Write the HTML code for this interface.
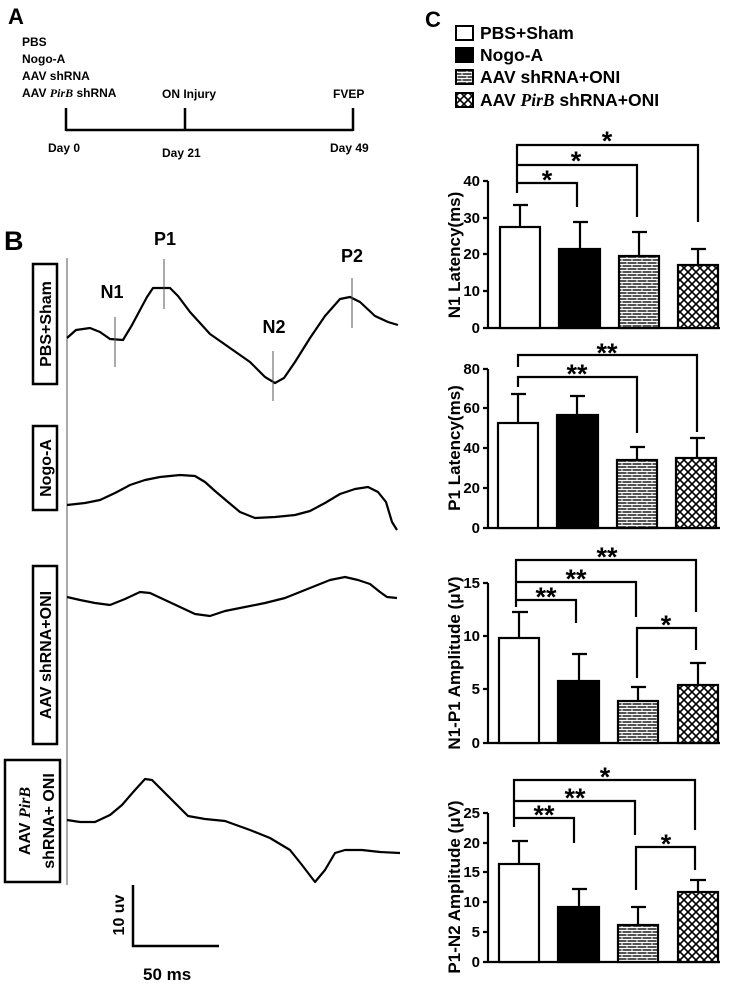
<!DOCTYPE html>
<html><head><meta charset="utf-8"><style>body{margin:0;background:#fff}svg{display:block}text{font-family:"Liberation Sans",sans-serif;font-weight:bold;fill:#000}</style></head><body>
<svg width="737" height="992" viewBox="0 0 737 992" xmlns="http://www.w3.org/2000/svg">
<defs>
<pattern id="brick" width="10" height="6" patternUnits="userSpaceOnUse"><rect width="10" height="6" fill="#555"/><path d="M0 0.5H10M0 3.5H10M2 0.5V3.5M7 3.5V6" stroke="#fff" stroke-width="1"/></pattern>
<pattern id="cross" width="8" height="8" patternUnits="userSpaceOnUse"><rect width="8" height="8" fill="#fff"/><path d="M0 0L8 8M8 0L0 8" stroke="#000" stroke-width="1.6"/></pattern>
</defs>
<!-- A -->
<text x="8" y="24" font-size="22">A</text>
<g font-size="12"><text x="22" y="46">PBS</text><text x="22" y="63">Nogo-A</text><text x="22" y="80">AAV shRNA</text><text x="22" y="97">AAV <tspan font-family="Liberation Serif" font-style="italic">PirB</tspan> shRNA</text>
<text x="162" y="98">ON Injury</text><text x="333" y="98">FVEP</text>
<text x="48" y="152">Day 0</text><text x="162" y="157">Day 21</text><text x="330" y="152">Day 49</text></g>
<g stroke="#000" stroke-width="2.5"><path d="M66 130H353M66 108V131M185 108V131M353 108V131" fill="none"/></g>
<!-- B -->
<text x="4" y="250" font-size="27">B</text>
<line x1="67" y1="258" x2="67" y2="885" stroke="#555" stroke-width="1"/>
<g fill="none" stroke="#000" stroke-width="2.5">
<rect x="33" y="264" width="24" height="120"/><rect x="33" y="426" width="24" height="84"/><rect x="33" y="566" width="24" height="178"/><rect x="5" y="760" width="55" height="122"/>
</g>
<g font-size="16">
<text transform="translate(51,324) rotate(-90)" text-anchor="middle">PBS+Sham</text>
<text transform="translate(51,468) rotate(-90)" text-anchor="middle">Nogo-A</text>
<text transform="translate(51,655) rotate(-90)" text-anchor="middle">AAV shRNA+ONI</text>
<text transform="translate(30,821) rotate(-90)" text-anchor="middle">AAV <tspan font-family="Liberation Serif" font-style="italic">PirB</tspan></text>
<text transform="translate(54,821) rotate(-90)" text-anchor="middle">shRNA+ ONI</text>
</g>
<g fill="none" stroke="#000" stroke-width="2.2" stroke-linejoin="round">
<polyline points="67,338 76,330 90,328 100,332 110,339 123,340 132,325 140,310 147,297 153,288 170,288 178,296 190,312 210,334 230,348 250,362 265,377 275,383 284,378 295,362 310,338 325,316 340,299 350,297 360,302 375,316 388,322 398,325"/>
<polyline points="67,505 85,503 100,500 115,493 130,485 145,480 160,477 180,475 195,476 205,482 215,491 228,502 240,512 255,518 275,517 295,515 310,511 325,503 340,494 355,489 368,487 378,492 386,502 392,522 397,530"/>
<polyline points="67,597 80,600 95,603 110,605 125,599 140,592 150,593 165,600 180,607 195,614 210,616 225,611 245,607 265,603 285,598 300,592 315,586 330,580 345,577 358,580 370,584 380,592 387,597 397,598"/>
<polyline points="67,820 80,822 95,822 110,815 122,805 135,790 145,779 152,780 162,790 175,803 188,816 205,819 225,821 250,830 270,838 290,850 302,865 315,882 325,870 335,853 345,850 362,850 380,852 400,853"/>
</g>
<g stroke="#555" stroke-width="1"><path d="M115 317V367M164 259V309M273 351V401M352 278V328"/></g>
<g font-size="18" text-anchor="middle"><text x="112" y="298">N1</text><text x="165" y="245">P1</text><text x="274" y="333">N2</text><text x="352" y="262">P2</text></g>
<path d="M133 885V946H219" fill="none" stroke="#000" stroke-width="2.5"/>
<text transform="translate(124,915) rotate(-90)" text-anchor="middle" font-size="16">10 uv</text>
<text x="143" y="980" font-size="17">50 ms</text>
<!-- C -->
<text x="425" y="27" font-size="22">C</text>
<g stroke="#000" stroke-width="2"><rect x="456" y="26" width="17" height="14" fill="#fff"/><rect x="456" y="48" width="17" height="14" fill="#000"/><rect x="456" y="70" width="17" height="14" fill="url(#brick)"/><rect x="456" y="93" width="17" height="14" fill="url(#cross)"/></g>
<g font-size="17.5"><text x="480" y="39">PBS+Sham</text><text x="480" y="61">Nogo-A</text><text x="480" y="83">AAV shRNA+ONI</text><text x="480" y="106">AAV <tspan font-family="Liberation Serif" font-style="italic">PirB</tspan> shRNA+ONI</text></g>
<g stroke="#000" stroke-width="2.2" fill="none">
<!-- chart1 -->
<path d="M488 181V328H720M483 181H488M483 218H488M483 254H488M483 291H488M483 328H488"/>
<rect x="500" y="227" width="40" height="101" fill="#fff"/><rect x="559" y="249" width="41" height="79" fill="#000"/><rect x="619" y="256" width="40" height="72" fill="url(#brick)"/><rect x="678" y="265" width="40" height="63" fill="url(#cross)"/>
<path d="M520 227V205M513 205H528M580 249V222M573 222H588M639 256V232M632 232H647M698 265V249M691 249H706"/>
<path d="M517 193V145H698V222M517 165H637V217M517 183H577V207"/>
<!-- chart2 -->
<path d="M488 369V528H720M483 369H488M483 408H488M483 448H488M483 488H488M483 528H488"/>
<rect x="498" y="423" width="40" height="105" fill="#fff"/><rect x="557" y="415" width="41" height="113" fill="#000"/><rect x="617" y="460" width="40" height="68" fill="url(#brick)"/><rect x="676" y="458" width="40" height="70" fill="url(#cross)"/>
<path d="M518 423V394M511 394H526M577 415V396M570 396H585M637 460V447M630 447H645M697 458V438M690 438H705"/>
<path d="M518 367V355H697V432M518 387V377H637V433"/>
<!-- chart3 -->
<path d="M488 583V743H720M483 583H488M483 636H488M483 689H488M483 743H488"/>
<rect x="499" y="638" width="40" height="105" fill="#fff"/><rect x="558" y="681" width="41" height="62" fill="#000"/><rect x="618" y="701" width="40" height="42" fill="url(#brick)"/><rect x="678" y="685" width="40" height="58" fill="url(#cross)"/>
<path d="M519 638V612M512 612H528M579 681V654M572 654H587M638 701V687M631 687H646M698 685V663M690 663H706"/>
<path d="M516 607V560H696V612M516 582H636V617M516 600H576V623M637 678V628H696V650"/>
<!-- chart4 -->
<path d="M488 813V962H720M483 813H488M483 843H488M483 872H488M483 902H488M483 932H488M483 962H488"/>
<rect x="499" y="864" width="40" height="98" fill="#fff"/><rect x="558" y="907" width="41" height="55" fill="#000"/><rect x="618" y="925" width="40" height="37" fill="url(#brick)"/><rect x="678" y="892" width="40" height="70" fill="url(#cross)"/>
<path d="M519 864V841M512 841H528M579 907V889M572 889H587M638 925V907M631 907H646M698 892V880M690 880H706"/>
<path d="M514 827V780H695V830M514 801H635V835M514 818H574V843M636 890V847H695V870"/>
</g>
<g font-size="15" text-anchor="end">
<text x="480" y="186">40</text><text x="480" y="223">30</text><text x="480" y="259">20</text><text x="480" y="296">10</text><text x="480" y="333">0</text>
<text x="480" y="374">80</text><text x="480" y="413">60</text><text x="480" y="453">40</text><text x="480" y="493">20</text><text x="480" y="533">0</text>
<text x="480" y="588">15</text><text x="480" y="641">10</text><text x="480" y="694">5</text><text x="480" y="748">0</text>
<text x="480" y="818">25</text><text x="480" y="848">20</text><text x="480" y="877">15</text><text x="480" y="907">10</text><text x="480" y="937">5</text><text x="480" y="967">0</text>
</g>
<g font-size="17" text-anchor="middle">
<text transform="translate(460,255) rotate(-90)">N1 Latency(ms)</text>
<text transform="translate(460,448) rotate(-90)">P1 Latency(ms)</text>
<text transform="translate(460,663) rotate(-90)">N1-P1 Amplitude (μV)</text>
<text transform="translate(460,887) rotate(-90)">P1-N2 Amplitude (μV)</text>
</g>
<g font-size="27" text-anchor="middle">
<text x="607" y="150">*</text><text x="576" y="170">*</text><text x="547" y="189">*</text>
<text x="607" y="362">**</text><text x="577" y="383">**</text>
<text x="607" y="566">**</text><text x="576" y="588">**</text><text x="546" y="606">**</text><text x="666" y="634">*</text>
<text x="605" y="786">*</text><text x="575" y="807">**</text><text x="544" y="824">**</text><text x="666" y="853">*</text>
</g>
</svg>
</body></html>
